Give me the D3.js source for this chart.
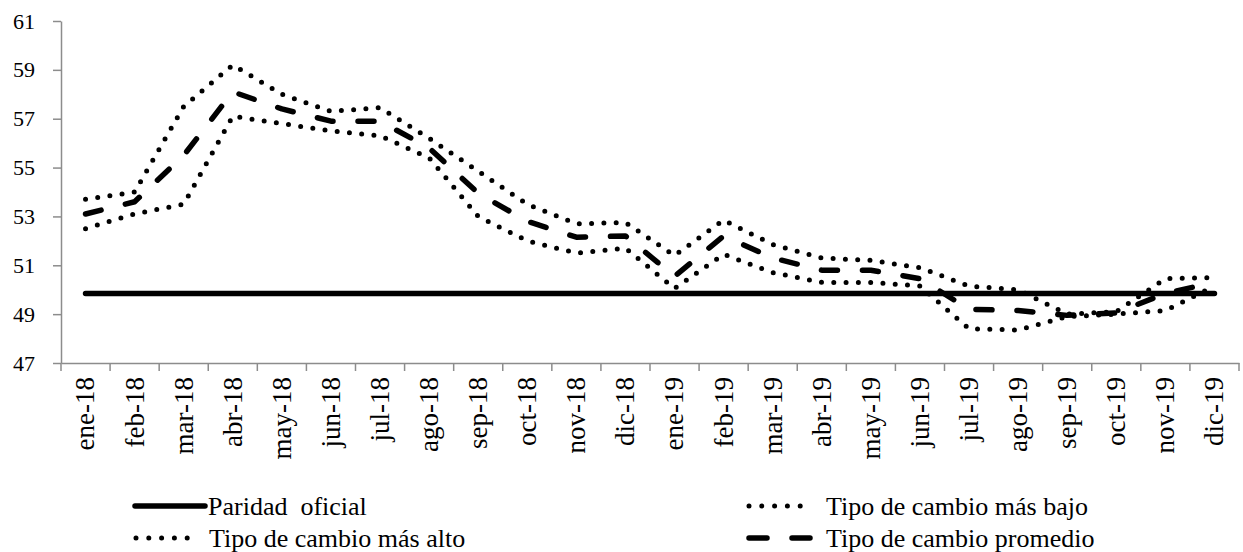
<!DOCTYPE html>
<html>
<head>
<meta charset="utf-8">
<script src="https://cdn.jsdelivr.net/npm/d3@7"></script>
<style>
  body { margin: 0; background: #fff; }
  svg text { font-family: 'Liberation Serif', 'Times New Roman', Times, 'DejaVu Serif', serif !important; fill: #000; }
</style>
</head>
<body>
<svg width="1243" height="552"></svg>
<script>
var months = ["ene-18","feb-18","mar-18","abr-18","may-18","jun-18","jul-18","ago-18","sep-18","oct-18","nov-18","dic-18",
              "ene-19","feb-19","mar-19","abr-19","may-19","jun-19","jul-19","ago-19","sep-19","oct-19","nov-19","dic-19"];
var paridad  = [49.85,49.85,49.85,49.85,49.85,49.85,49.85,49.85,49.85,49.85,49.85,49.85,
                49.85,49.85,49.85,49.85,49.85,49.85,49.85,49.85,49.85,49.85,49.85,49.85];
var masAlto  = [53.7,54.0,57.5,59.2,58.0,57.3,57.45,56.2,54.85,53.5,52.7,52.75,
                51.4,52.85,51.85,51.3,51.2,50.9,50.15,50.0,49.0,49.1,50.45,50.5];
var promedio = [53.1,53.6,55.5,58.1,57.4,56.9,56.9,55.8,53.95,52.8,52.15,52.2,
                50.55,52.2,51.3,50.8,50.8,50.45,49.2,49.15,48.95,49.05,49.85,50.3];
var masBajo  = [52.5,53.1,53.5,57.1,56.8,56.5,56.3,55.4,53.0,52.0,51.5,51.7,
                50.05,51.45,50.7,50.3,50.3,50.15,48.4,48.35,48.9,49.0,49.15,50.15];
var yTicks = [47,49,51,53,55,57,59,61];

var svg = d3.select("svg");

var x = d3.scaleBand().domain(months).range([61, 1239]).padding(0);
var y = d3.scaleLinear().domain([47, 61]).range([363, 21]);
var bw = x.bandwidth();

// y axis
var yAxis = svg.append("g")
    .attr("transform", "translate(61,0)")
    .call(d3.axisLeft(y).tickValues(yTicks).tickSize(8).tickPadding(18).tickSizeOuter(0));
yAxis.attr("font-family", null);
yAxis.selectAll("path, line").attr("stroke", "#8c8c8c").attr("stroke-width", 1.5);
yAxis.selectAll("text").style("font-size", "22px");

// x axis (ticks at band edges)
var xAxis = svg.append("g")
    .attr("transform", "translate(0,363)")
    .call(d3.axisBottom(x).tickSize(0).tickPadding(0).tickSizeOuter(0));
xAxis.attr("font-family", null);
xAxis.select(".domain").attr("stroke", "#8c8c8c").attr("stroke-width", 1.5);
xAxis.selectAll("text")
    .style("font-size", "27px")
    .attr("text-anchor", "end")
    .attr("transform", "rotate(-90)")
    .attr("x", -14)
    .attr("y", 0)
    .attr("dy", "0.33em");

var edges = months.map(function(m) { return x(m); }).concat([x.range()[1]]);
svg.append("g").selectAll("line")
    .data(edges)
    .enter().append("line")
    .attr("x1", function(d) { return d; })
    .attr("x2", function(d) { return d; })
    .attr("y1", 363)
    .attr("y2", 371)
    .attr("stroke", "#8c8c8c")
    .attr("stroke-width", 1.5);

var line = d3.line()
    .x(function(d, i) { return x(months[i]) + bw / 2; })
    .y(function(d) { return y(d); });

var series = [
  {name: "Paridad  oficial", values: paridad, dash: null, width: 5.5},
  {name: "Tipo de cambio más alto", values: masAlto, dash: "0 12.3", width: 5},
  {name: "Tipo de cambio más bajo", values: masBajo, dash: "0 12.3", width: 5},
  {name: "Tipo de cambio promedio", values: promedio, dash: "16 25", width: 5.5}
];

svg.append("g").selectAll("path")
    .data(series)
    .enter().append("path")
    .attr("d", function(d) { return line(d.values); })
    .attr("fill", "none")
    .attr("stroke", "#000")
    .attr("stroke-width", function(d) { return d.width; })
    .attr("stroke-linecap", "round")
    .attr("stroke-linejoin", "round")
    .attr("stroke-dasharray", function(d) { return d.dash; });

// legend
var legendPos = [
  {s: series[0], x: 135, y: 506},
  {s: series[2], x: 749, y: 506},
  {s: series[1], x: 136, y: 538},
  {s: series[3], x: 749, y: 538}
];

var leg = svg.append("g").selectAll("g")
    .data(legendPos)
    .enter().append("g")
    .attr("transform", function(d) { return "translate(" + d.x + "," + d.y + ")"; });

leg.append("line")
    .attr("x1", 0)
    .attr("x2", function(d) { return d.s.dash === null ? 70 : 64; })
    .attr("y1", 0).attr("y2", 0)
    .attr("stroke", "#000")
    .attr("stroke-width", function(d) { return d.s.width; })
    .attr("stroke-linecap", "round")
    .attr("stroke-dasharray", function(d) { return d.s.dash === "16 25" ? "18 25" : d.s.dash === null ? null : "0 12.8"; });

leg.append("text")
    .attr("x", function(d) { return d.x < 500 ? 73 : 77; })
    .attr("y", 0)
    .attr("dy", "0.33em")
    .style("font-size", "26px")
    .style("white-space", "pre")
    .attr("xml:space", "preserve")
    .text(function(d) { return d.s.name; });
</script>
</body>
</html>
